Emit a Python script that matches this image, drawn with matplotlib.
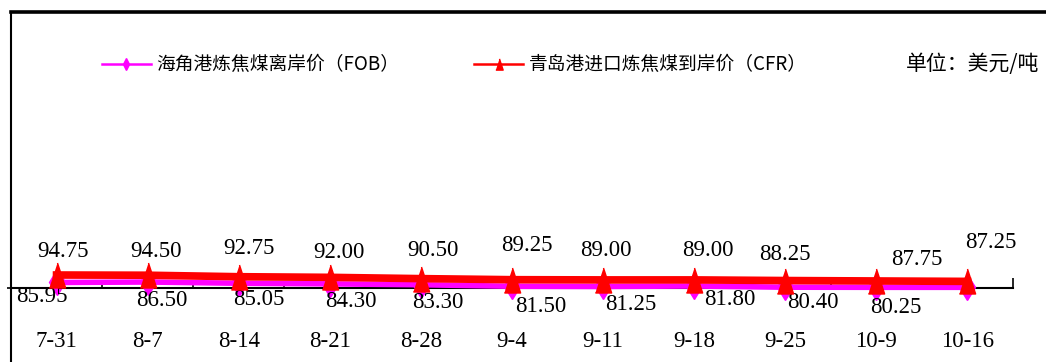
import numpy as np
import matplotlib.pyplot as plt

plt.rcParams['font.family'] = ['Noto Sans CJK SC', 'DejaVu Sans']

# weekly coking coal prices, USD/t
dates = ['7-31', '8-7', '8-14', '8-21', '8-28', '9-4', '9-11', '9-18', '9-25', '10-9', '10-16']
fob = [85.95, 86.50, 85.05, 84.30, 83.30, 81.50, 81.25, 81.80, 80.40, 80.25, 80.25]
fob_labels = ['85.95', '86.50', '85.05', '84.30', '83.30', '81.50', '81.25', '81.80', '80.40', '80.25']
cfr = [94.75, 94.50, 92.75, 92.00, 90.50, 89.25, 89.00, 89.00, 88.25, 87.75, 87.25]
fob_name = '海角港炼焦煤离岸价（FOB）'
cfr_name = '青岛港进口炼焦煤到岸价（CFR）'
unit = '单位：美元/吨'

# label offsets in pixels (hand placed)
cfr_dx = [6, 8, 10, 9, 12, 15, 3, 14, 0, 40, 23]
cfr_dy = [24, 24, 28, 25, 28, 34, 29, 29, 26, 21, 39]
fob_dx = [-15, 14, 20, 21, 17, 29, 28, 36, 28, 19]
fob_dy = [-14, -18, -16, -18, -18, -20, -18, -13, -15, -20]

W, H = 1046, 362
fig = plt.figure(figsize=(W / 100, H / 100), dpi=100)
ax = fig.add_axes([11 / W, 0, (W - 11) / W, (H - 12) / H])

x = np.arange(len(dates))
ax.plot(x[:len(fob)], fob, color='#FF00FF', lw=4, marker='d', ms=13, zorder=3,
        label=fob_name)
tri = [(-0.65, -1), (0.65, -1), (0, 1)]
ax.plot(x, cfr, color='#FF0000', lw=5.5, marker=tri, ms=18, zorder=4,
        label=cfr_name)

num_font = dict(family=['Liberation Serif', 'DejaVu Sans'], fontsize=16.5)
for i, v in enumerate(cfr):
    ax.annotate(f'{v:.2f}', (x[i], v), xytext=(cfr_dx[i], cfr_dy[i]),
                textcoords='offset pixels', ha='center', va='center', **num_font)
for i, s in enumerate(fob_labels):
    ax.annotate(s, (x[i], fob[i]), xytext=(fob_dx[i], fob_dy[i]),
                textcoords='offset pixels', ha='center', va='center', **num_font)

ax.set_xlim(-0.5, 10.862)
ax.set_ylim(-7.6, 404.2)

ax.spines['right'].set_visible(False)
ax.spines['top'].set_linewidth(2.6)
ax.spines['left'].set_linewidth(1.5)
ax.spines['bottom'].set_position(('data', 79.5))
ax.spines['bottom'].set_bounds(-0.5, 10.5)
ax.spines['bottom'].set_linewidth(1.5)

ax.set_xticks(np.arange(-0.5, 11, 1))
ax.set_xticklabels([])
ax.set_xticks(x, minor=True)
ax.set_xticklabels(dates, minor=True, **num_font)
ax.tick_params(axis='x', which='major', direction='in', length=3, width=1.2)
ax.tick_params(axis='x', which='minor', length=0, pad=31)
ax.xaxis.get_major_ticks()[-1].tick1line.set_markersize(7)
ax.set_yticks([79.5])
ax.set_yticklabels([])
ax.tick_params(axis='y', direction='out', length=3, width=1.2)

leg = ax.legend(loc='center left', bbox_to_anchor=(102 / W, 1 - 65 / H),
                bbox_transform=fig.transFigure, ncol=2, frameon=False,
                prop=dict(size=13.5), markerscale=0.45, handlelength=2.6,
                handletextpad=0.3, columnspacing=4.0, borderpad=0, borderaxespad=0)
for ln in leg.get_lines():
    ln.set_linewidth(1.8)
fig.text(906 / W, 1 - 64 / H, unit, fontsize=15, ha='left', va='center')

fig.savefig('out.png', dpi=100)
